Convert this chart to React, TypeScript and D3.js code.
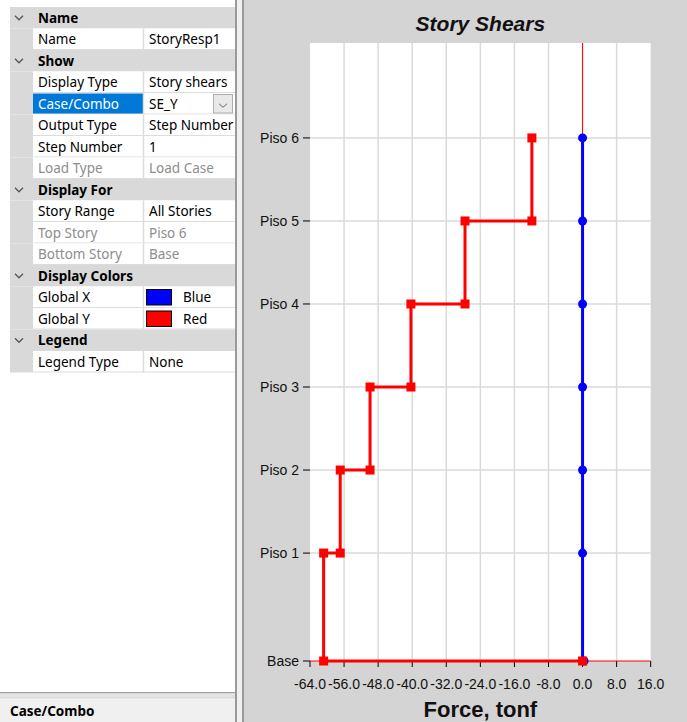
import React from "react";
import * as d3 from "d3";

// ---- Data ----
const stories = ["Base", "Piso 1", "Piso 2", "Piso 3", "Piso 4", "Piso 5", "Piso 6"];
const elevations = [0, 3.9, 6.9, 9.9, 12.9, 15.9, 18.9];
// story shear, Global Y (SE_Y), for stories Piso 1..Piso 6
const shearGlobalY = [-60.8, -56.9, -49.9, -40.3, -27.6, -11.9];
// story shear, Global X, at levels Base..Piso 6
const shearGlobalX = [0, 0, 0, 0, 0, 0, 0];
const xTicks = [-64, -56, -48, -40, -32, -24, -16, -8, 0, 8, 16];
const xDomain = [-64, 16];
const yDomain = [0, 22.33];

// property grid rows: [type, label, value, disabled]
type Row = { kind: "h" | "r"; label: string; value?: string; disabled?: boolean; swatch?: string; selected?: boolean; dropdown?: boolean };
const gridRows: Row[] = [
  { kind: "h", label: "Name" },
  { kind: "r", label: "Name", value: "StoryResp1" },
  { kind: "h", label: "Show" },
  { kind: "r", label: "Display Type", value: "Story shears" },
  { kind: "r", label: "Case/Combo", value: "SE_Y", selected: true, dropdown: true },
  { kind: "r", label: "Output Type", value: "Step Number" },
  { kind: "r", label: "Step Number", value: "1" },
  { kind: "r", label: "Load Type", value: "Load Case", disabled: true },
  { kind: "h", label: "Display For" },
  { kind: "r", label: "Story Range", value: "All Stories" },
  { kind: "r", label: "Top Story", value: "Piso 6", disabled: true },
  { kind: "r", label: "Bottom Story", value: "Base", disabled: true },
  { kind: "h", label: "Display Colors" },
  { kind: "r", label: "Global X", value: "Blue", swatch: "#0000ff" },
  { kind: "r", label: "Global Y", value: "Red", swatch: "#ff0000" },
  { kind: "h", label: "Legend" },
  { kind: "r", label: "Legend Type", value: "None" },
];

const W = 687;
const H = 722;
const uiFont = "'Noto Sans', 'Open Sans', sans-serif";
const chartFont = "'Liberation Sans', Arial, sans-serif";

export default function App() {
  const plotLeft = 310;
  const plotRight = 650.7;
  const plotTop = 43;
  const plotBottom = 661;
  const x = d3.scaleLinear().domain(xDomain).range([plotLeft, plotRight]);
  const y = d3.scaleLinear().domain(yDomain).range([plotBottom, plotTop]);

  // red step path
  const redPts: [number, number][] = [[0, elevations[0]]];
  shearGlobalY.forEach((v, i) => {
    redPts.push([v, elevations[i]]);
    redPts.push([v, elevations[i + 1]]);
  });
  const bluePts: [number, number][] = shearGlobalX.map((v, i) => [v, elevations[i]]);
  const line = d3.line<[number, number]>().x((d) => x(d[0])).y((d) => y(d[1]));

  const rowTop = 7;
  const rowH = 21.5;
  const gL = 10, gutR = 33, colDiv = 143.5, gR = 235;

  return (
    <svg width={W} height={H} style={{ position: "fixed", left: 0, top: 0, display: "block" }}>
      {/* left panel */}
      <rect x={0} y={0} width={236} height={H} fill="#ffffff" />
      {gridRows.map((r, i) => {
        const ty = rowTop + i * rowH;
        const cy = ty + rowH / 2;
        if (r.kind === "h") {
          return (
            <g key={i}>
              <rect x={gL} y={ty} width={gR - gL} height={rowH} fill="#d9d9d9" />
              <path d={`M${15},${cy - 2} L${19},${cy + 2} L${23},${cy - 2}`} fill="none" stroke="#555" strokeWidth={1.3} />
              <text x={38} y={cy} dy="0.36em" fontFamily={uiFont} fontSize={13.5} fontWeight="bold" fill="#000">{r.label}</text>
            </g>
          );
        }
        const col = r.disabled ? "#8d8d8d" : "#000";
        return (
          <g key={i}>
            <rect x={gL} y={ty} width={gutR - gL} height={rowH} fill="#d9d9d9" />
            <rect x={gutR} y={ty} width={gR - gutR} height={rowH} fill="#fff" />
            {r.selected && <rect x={gutR} y={ty + 0.5} width={colDiv - gutR} height={rowH - 1} fill="#0078d7" />}
            <line x1={gutR} x2={gR} y1={ty + rowH - 0.5} y2={ty + rowH - 0.5} stroke="#dcdcdc" strokeWidth={1} />
            <line x1={colDiv} x2={colDiv} y1={ty} y2={ty + rowH} stroke="#dcdcdc" strokeWidth={1.5} />
            <text x={38} y={cy} dy="0.36em" fontFamily={uiFont} fontSize={13.5} fill={r.selected ? "#fff" : col}>{r.label}</text>
            {r.swatch ? (
              <g>
                <rect x={146.5} y={ty + 3} width={25} height={rowH - 6} fill={r.swatch} stroke="#000" strokeWidth={1} />
                <text x={183} y={cy} dy="0.36em" fontFamily={uiFont} fontSize={13.5} fill="#000">{r.value}</text>
              </g>
            ) : (
              <text x={149} y={cy} dy="0.36em" fontFamily={uiFont} fontSize={13.5} fill={col}>{r.value}</text>
            )}
            {r.dropdown && (
              <g>
                <rect x={213.5} y={ty + 1.5} width={19} height={rowH - 3} fill="#e9e9e9" stroke="#adadad" strokeWidth={1} />
                <path d={`M${219},${cy} L${223},${cy + 3.5} L${227},${cy}`} fill="none" stroke="#666" strokeWidth={1} />
              </g>
            )}
          </g>
        );
      })}
      {/* bottom description area */}
      <rect x={0} y={692} width={236} height={1.5} fill="#a0a0a0" />
      <rect x={0} y={693.5} width={236} height={4} fill="#e3e3e3" />
      <rect x={0} y={697.5} width={236} height={1} fill="#c4c4c4" />
      <rect x={0} y={698.5} width={236} height={H - 698.5} fill="#f0f0f0" />
      <text x={10} y={711} dy="0.36em" fontFamily={uiFont} fontSize={13.5} fontWeight="bold" fill="#000">Case/Combo</text>

      {/* splitter */}
      <rect x={235} y={0} width={2} height={H} fill="#9a9a9a" />
      <rect x={237} y={0} width={5} height={H} fill="#f0f0f0" />
      <rect x={242} y={0} width={2} height={H} fill="#9a9a9a" />

      {/* chart area */}
      <rect x={244} y={0} width={W - 244} height={H} fill="#d4d4d4" />
      <text x={(plotLeft + plotRight) / 2} y={23} dy="0.36em" textAnchor="middle" fontFamily={chartFont} fontSize={21} fontWeight="bold" fontStyle="italic" fill="#111">Story Shears</text>
      <rect x={plotLeft} y={plotTop} width={plotRight - plotLeft} height={plotBottom - plotTop} fill="#ffffff" />
      {/* grid */}
      {xTicks.slice(1, -1).map((t) => (
        <line key={t} x1={x(t)} x2={x(t)} y1={plotTop} y2={plotBottom} stroke="#dadada" strokeWidth={1.5} />
      ))}
      {elevations.slice(1).map((e, i) => (
        <line key={i} x1={plotLeft} x2={plotRight} y1={y(e)} y2={y(e)} stroke="#dadada" strokeWidth={1.5} />
      ))}
      {/* axes ticks */}
      {xTicks.map((t) => (
        <g key={t}>
          <line x1={x(t)} x2={x(t)} y1={plotBottom} y2={plotBottom + 6} stroke="#000" strokeWidth={1} />
          <text x={x(t)} y={684} dy="0.36em" textAnchor="middle" fontFamily={chartFont} fontSize={14} fill="#111">{t.toFixed(1)}</text>
        </g>
      ))}
      {elevations.map((e, i) => (
        <g key={i}>
          <line x1={plotLeft - 7} x2={plotLeft} y1={y(e)} y2={y(e)} stroke="#000" strokeWidth={1} />
          <text x={299} y={y(e)} dy="0.36em" textAnchor="end" fontFamily={chartFont} fontSize={14} fill="#111">{stories[i]}</text>
        </g>
      ))}
      <text x={(plotLeft + plotRight) / 2} y={709} dy="0.36em" textAnchor="middle" fontFamily={chartFont} fontSize={22} fontWeight="bold" fill="#111">Force, tonf</text>

      {/* reference lines */}
      <line x1={x(0)} x2={x(0)} y1={plotTop} y2={plotBottom} stroke="#ff0000" strokeWidth={1} />
      <line x1={plotLeft} x2={plotRight} y1={plotBottom} y2={plotBottom} stroke="#ff0000" strokeWidth={1.2} />

      {/* Global X (blue) */}
      <path d={line(bluePts) || ""} fill="none" stroke="#0000ff" strokeWidth={3} />
      {bluePts.map((p, i) => (
        <circle key={i} cx={x(p[0]) + (i === 0 ? 1.5 : 0)} cy={y(p[1])} r={4.5} fill="#0000ff" />
      ))}
      {/* Global Y (red) */}
      <path d={line(redPts) || ""} fill="none" stroke="#ff0000" strokeWidth={3} />
      {redPts.map((p, i) => (
        <rect key={i} x={x(p[0]) - 4.5} y={y(p[1]) - 4.5} width={9} height={9} fill="#ff0000" />
      ))}
    </svg>
  );
}
